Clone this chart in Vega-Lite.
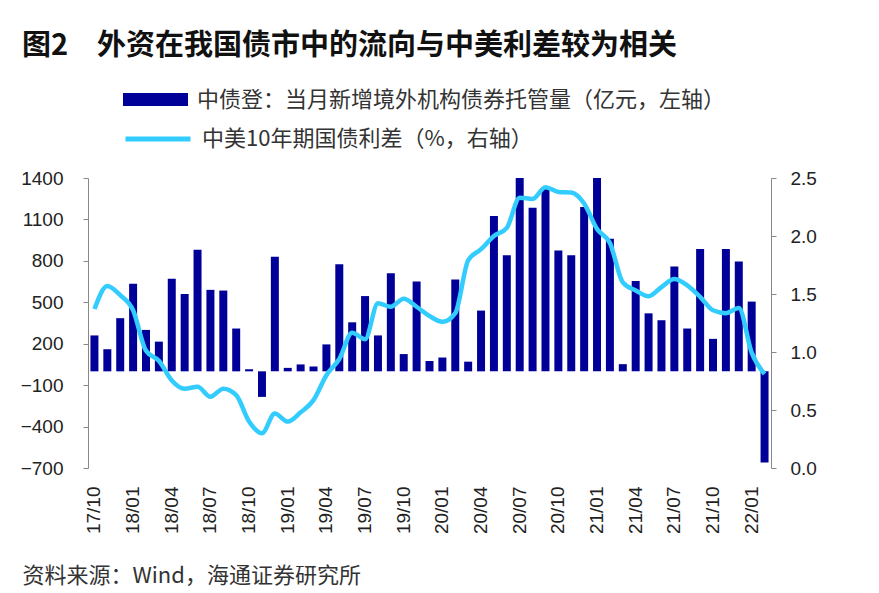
{
  "$schema": "https://vega.github.io/schema/vega-lite/v6.json",
  "autosize": "none",
  "width": 683,
  "height": 290,
  "padding": {"left": 88, "top": 178, "right": 108, "bottom": 125},
  "background": "white",
  "config": {
    "view": {"stroke": null},
    "font": "'Liberation Sans', 'Noto Sans CJK SC', sans-serif",
    "axis": {"labelColor": "#222", "labelFontSize": 19, "domainColor": "#888", "tickColor": "#888", "grid": false}
  },
  "title": {
    "text": "图2　外资在我国债市中的流向与中美利差较为相关",
    "anchor": "start",
    "frame": "group",
    "dx": -66,
    "offset": 6,
    "fontSize": 29,
    "fontWeight": "bold",
    "color": "#111",
    "font": "'Noto Sans CJK SC', sans-serif"
  },
  "data": {
    "values": [
      {"month": "17/10", "flow": 260, "spread": 1.37},
      {"month": "17/11", "flow": 160, "spread": 1.57},
      {"month": "17/12", "flow": 385, "spread": 1.49},
      {"month": "18/01", "flow": 635, "spread": 1.36},
      {"month": "18/02", "flow": 300, "spread": 1.01},
      {"month": "18/03", "flow": 215, "spread": 0.925},
      {"month": "18/04", "flow": 670, "spread": 0.755},
      {"month": "18/05", "flow": 560, "spread": 0.684},
      {"month": "18/06", "flow": 880, "spread": 0.7},
      {"month": "18/07", "flow": 590, "spread": 0.614},
      {"month": "18/08", "flow": 585, "spread": 0.684},
      {"month": "18/09", "flow": 310, "spread": 0.628},
      {"month": "18/10", "flow": 15, "spread": 0.4},
      {"month": "18/11", "flow": -185, "spread": 0.3},
      {"month": "18/12", "flow": 830, "spread": 0.47},
      {"month": "19/01", "flow": 25, "spread": 0.4},
      {"month": "19/02", "flow": 50, "spread": 0.48},
      {"month": "19/03", "flow": 35, "spread": 0.585},
      {"month": "19/04", "flow": 195, "spread": 0.8},
      {"month": "19/05", "flow": 775, "spread": 0.94},
      {"month": "19/06", "flow": 355, "spread": 1.165},
      {"month": "19/07", "flow": 545, "spread": 1.11},
      {"month": "19/08", "flow": 260, "spread": 1.42},
      {"month": "19/09", "flow": 710, "spread": 1.39},
      {"month": "19/10", "flow": 125, "spread": 1.46},
      {"month": "19/11", "flow": 650, "spread": 1.39},
      {"month": "19/12", "flow": 75, "spread": 1.31},
      {"month": "20/01", "flow": 100, "spread": 1.26},
      {"month": "20/02", "flow": 665, "spread": 1.335},
      {"month": "20/03", "flow": 70, "spread": 1.79},
      {"month": "20/04", "flow": 440, "spread": 1.886},
      {"month": "20/05", "flow": 1125, "spread": 2.0},
      {"month": "20/06", "flow": 840, "spread": 2.07},
      {"month": "20/07", "flow": 1400, "spread": 2.33},
      {"month": "20/08", "flow": 1185, "spread": 2.32},
      {"month": "20/09", "flow": 1325, "spread": 2.42},
      {"month": "20/10", "flow": 875, "spread": 2.38},
      {"month": "20/11", "flow": 840, "spread": 2.375},
      {"month": "20/12", "flow": 1190, "spread": 2.28},
      {"month": "21/01", "flow": 1400, "spread": 2.06},
      {"month": "21/02", "flow": 960, "spread": 1.94},
      {"month": "21/03", "flow": 52, "spread": 1.6},
      {"month": "21/04", "flow": 655, "spread": 1.53},
      {"month": "21/05", "flow": 420, "spread": 1.48},
      {"month": "21/06", "flow": 370, "spread": 1.56},
      {"month": "21/07", "flow": 760, "spread": 1.63},
      {"month": "21/08", "flow": 310, "spread": 1.575},
      {"month": "21/09", "flow": 885, "spread": 1.476},
      {"month": "21/10", "flow": 235, "spread": 1.36},
      {"month": "21/11", "flow": 885, "spread": 1.335},
      {"month": "21/12", "flow": 795, "spread": 1.38},
      {"month": "22/01", "flow": 505, "spread": 0.995},
      {"month": "22/02", "flow": -660, "spread": 0.81}
    ]
  },
  "encoding": {
    "x": {
      "field": "month",
      "type": "ordinal",
      "sort": null,
      "scale": {"paddingInner": 0.38, "paddingOuter": 0.19},
      "axis": {
        "values": ["17/10","18/01","18/04","18/07","18/10","19/01","19/04","19/07","19/10","20/01","20/04","20/07","20/10","21/01","21/04","21/07","21/10","22/01"],
        "labelAngle": -90,
        "labelPadding": 18,
        "domain": false,
        "ticks": false,
        "title": "资料来源：Wind，海通证券研究所",
        "titleAnchor": "start",
        "titleAlign": "left",
        "titleX": -66,
        "titleY": 114,
        "titleBaseline": "alphabetic",
        "titleFontSize": 22,
        "titleFontWeight": "normal",
        "titleColor": "#333",
        "titleFont": "'Noto Sans CJK SC', 'Liberation Sans', sans-serif"
      }
    }
  },
  "layer": [
    {
      "mark": {"type": "bar"},
      "encoding": {
        "y": {
          "field": "flow",
          "type": "quantitative",
          "scale": {"domain": [-700, 1400], "nice": false, "zero": false},
          "axis": {"values": [-700, -400, -100, 200, 500, 800, 1100, 1400], "format": "d", "title": null, "labelPadding": 20, "tickSize": 5, "orient": "left"}
        },
        "fill": {
          "datum": "中债登：当月新增境外机构债券托管量（亿元，左轴）",
          "scale": {"range": ["#000099"]},
          "legend": {
            "title": null,
            "orient": "none",
            "legendX": 35,
            "legendY": -111,
            "symbolType": "M-1,-0.2L1,-0.2L1,0.2L-1,0.2Z",
            "symbolSize": 4225,
            "symbolStrokeWidth": 0,
            "labelOffset": 9,
            "labelFontSize": 22,
            "labelColor": "#333",
            "labelLimit": 700,
            "labelFont": "'Noto Sans CJK SC', sans-serif"
          }
        }
      }
    },
    {
      "mark": {"type": "rule", "color": "#222", "strokeWidth": 1},
      "encoding": {
        "y": {"datum": 0, "type": "quantitative", "scale": {"domain": [-700, 1400], "nice": false, "zero": false}, "axis": null}
      }
    },
    {
      "mark": {"type": "line", "interpolate": "monotone", "strokeWidth": 4.5},
      "encoding": {
        "y": {
          "field": "spread",
          "type": "quantitative",
          "scale": {"domain": [0, 2.5], "nice": false},
          "axis": {"values": [0, 0.5, 1, 1.5, 2, 2.5], "format": ".1f", "title": null, "orient": "right", "labelPadding": 14, "tickSize": 5}
        },
        "stroke": {
          "datum": "中美10年期国债利差（%，右轴）",
          "scale": {"range": ["#33CCFF"]},
          "legend": {
            "title": null,
            "orient": "none",
            "legendX": 35,
            "legendY": -74,
            "symbolType": "stroke",
            "symbolSize": 4225,
            "symbolStrokeWidth": 5,
            "labelOffset": 9,
            "labelFontSize": 22,
            "labelColor": "#333",
            "labelLimit": 700,
            "labelFont": "'Noto Sans CJK SC', sans-serif"
          }
        }
      }
    }
  ],
  "resolve": {"scale": {"y": "independent"}}
}
